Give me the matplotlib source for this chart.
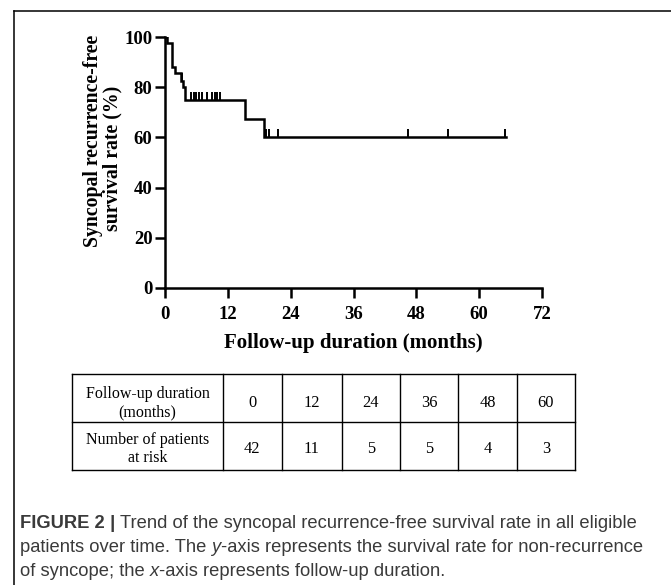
import matplotlib
matplotlib.use("Agg")
import matplotlib.pyplot as plt
from matplotlib.lines import Line2D

# survival curve
step_times = [0, 0.45, 1.3, 2.0, 3.0, 3.5, 3.9, 15.2, 19.0]
step_surv = [100, 97.6, 88.1, 85.7, 82.6, 80.2, 75.0, 67.5, 60.0]
end_time = 65.2

censor_times = [3.2, 5.0, 5.5, 6.0, 6.5, 7.0, 8.0, 9.0, 9.5, 10.0, 10.5,
                19.3, 19.9, 21.5, 46.5, 54.0, 65.0]
censor_surv = [82.6] + [75.0] * 10 + [60.0] * 6

# number at risk table
table_times = ["0", "12", "24", "36", "48", "60"]
at_risk = ["42", "11", "5", "5", "4", "3"]

serif = "Liberation Serif"
sans = "Liberation Sans"
plt.rcParams["font.family"] = serif
plt.rcParams["font.weight"] = "bold"

fig = plt.figure(figsize=(6.71, 5.85), dpi=100)
W, H = 671, 585
tx = lambda px: px / W
ty = lambda py: 1 - py / H

# frame of the figure panel (top and left rule)
fig.add_artist(Line2D([tx(14), 1], [ty(11), ty(11)], color="black", lw=1.1))
fig.add_artist(Line2D([tx(14), tx(14)], [0, ty(11)], color="black", lw=1.1))

ax = fig.add_axes([tx(165), ty(288), (542 - 165) / W, (288 - 37) / H])
xs = step_times + [end_time]
ys = step_surv + [step_surv[-1]]
ax.plot(xs, ys, drawstyle="steps-post", color="black", lw=1.8, solid_joinstyle="miter")
ax.plot(censor_times, censor_surv, linestyle="none", marker=2, markersize=5.5,
        markeredgewidth=1.4, color="black")

ax.set_xlim(0, 72)
ax.set_ylim(0, 100)
ax.set_xticks(range(0, 73, 12))
ax.set_yticks(range(0, 101, 20))
for s in ["top", "right"]:
    ax.spines[s].set_visible(False)
for s in ["left", "bottom"]:
    ax.spines[s].set_linewidth(1.8)
ax.tick_params(length=7, width=1.8, direction="out", labelsize=13.5)
ax.tick_params(axis="x", pad=6)
ax.tick_params(axis="y", pad=2)

ax.set_xlabel("Follow-up duration (months)", fontweight="bold", fontsize=15, labelpad=7)
# y label: two lines placed as in the original
fig.text(tx(93), ty(141), "Syncopal recurrence-free", rotation=90, ha="center",
         va="center", fontweight="bold", fontsize=14.2)
fig.text(tx(112), ty(158), "survival rate (%)", rotation=90, ha="center",
         va="center", fontweight="bold", fontsize=14.2)

# at-risk table
tab_top, row_mid, tab_bottom = 374, 422, 470
col_edges = [72, 223, 281.7, 341.7, 400, 458.3, 516.7, 575]
for x in col_edges:
    fig.add_artist(Line2D([tx(x), tx(x)], [ty(tab_top), ty(tab_bottom)], color="black", lw=1.0))
for y in [tab_top, row_mid, tab_bottom]:
    fig.add_artist(Line2D([tx(col_edges[0]), tx(col_edges[-1])], [ty(y), ty(y)], color="black", lw=1.0))

row_centers = [(tab_top + row_mid) / 2 + 5, (row_mid + tab_bottom) / 2 + 3]
heads = ["Follow-up duration\n(months)", "Number of patients\nat risk"]
for r, (head, vals) in enumerate(zip(heads, [table_times, at_risk])):
    yc = ty(row_centers[r])
    fig.text(tx((col_edges[0] + col_edges[1]) / 2), yc, head, ha="center", va="center",
             fontweight="normal", fontsize=11.5, linespacing=1.15)
    for i, v in enumerate(vals):
        fig.text(tx((col_edges[i + 1] + col_edges[i + 2]) / 2), yc, v, ha="center",
                 va="center", fontweight="normal", fontsize=11.8)

# caption, drawn piece by piece so italics and bold can be mixed
cap_color = "#3a3a3a"
cap_size = 13.2
caption = [
    [("FIGURE 2", "bold", "normal"), (" | ", "bold", "normal"),
     ("Trend of the syncopal recurrence-free survival rate in all eligible", "normal", "normal")],
    [("patients over time. The ", "normal", "normal"), ("y", "normal", "italic"),
     ("-axis represents the survival rate for non-recurrence", "normal", "normal")],
    [("of syncope; the ", "normal", "normal"), ("x", "normal", "italic"),
     ("-axis represents follow-up duration.", "normal", "normal")],
]
line_y = [528, 552, 576]
renderer = fig.canvas.get_renderer()
for pieces, yb in zip(caption, line_y):
    x = 20
    for txt, weight, style in pieces:
        t = fig.text(tx(x), ty(yb), txt, ha="left", va="baseline", fontfamily=sans,
                     fontweight=weight, fontstyle=style, fontsize=cap_size, color=cap_color)
        bb = t.get_window_extent(renderer)
        x += bb.width

fig.savefig("out.png", dpi=100)
